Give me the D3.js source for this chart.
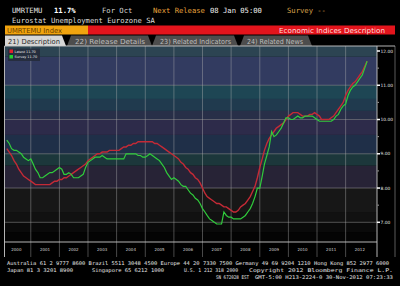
<!DOCTYPE html>
<html>
<head>
<meta charset="utf-8">
<script src="https://cdn.jsdelivr.net/npm/d3@7"></script>
<style>
  html, body { margin: 0; padding: 0; background: #000; }
  svg { display: block; }
</style>
</head>
<body>
<svg id="chart" width="400" height="286"></svg>
<script>
// monthly series, Mar 2000 .. Oct 2012
const startMonth = new Date(2000, 2, 1);
const latest = [
  9.15, 9.05, 8.95, 8.8, 8.7, 8.55, 8.45, 8.35, 8.3, 8.25,
  8.2, 8.15, 8.1, 8.1, 8.1, 8.1, 8.1, 8.1, 8.1, 8.15, 8.2, 8.2,
  8.25, 8.25, 8.3, 8.3, 8.35, 8.4, 8.45, 8.5, 8.55, 8.6, 8.65, 8.7,
  8.8, 8.85, 8.9, 8.95, 9.0, 9.0, 9.05, 9.05, 9.05, 9.1, 9.1, 9.1,
  9.1, 9.1, 9.15, 9.2, 9.2, 9.25, 9.25, 9.3, 9.3, 9.35, 9.35, 9.35,
  9.35, 9.35, 9.35, 9.35, 9.3, 9.3, 9.25, 9.2, 9.15, 9.1, 9.05, 9.0,
  8.95, 8.9, 8.85, 8.75, 8.7, 8.6, 8.55, 8.45, 8.4, 8.3, 8.25, 8.15,
  8.0, 7.85, 7.75, 7.7, 7.65, 7.6, 7.55, 7.55, 7.5, 7.45, 7.45, 7.4,
  7.35, 7.3, 7.3, 7.35, 7.45, 7.5, 7.55, 7.65, 7.75, 7.9, 8.05, 8.3,
  8.6, 8.85, 9.1, 9.3, 9.45, 9.55, 9.65, 9.75, 9.8, 9.85, 9.9, 10.0,
  10.1, 10.15, 10.2, 10.2, 10.2, 10.15, 10.1, 10.1, 10.1, 10.15, 10.15, 10.2,
  10.15, 10.1, 10.0, 10.0, 10.0, 10.0, 10.05, 10.1, 10.2, 10.3, 10.4, 10.5,
  10.7, 10.85, 10.95, 11.05, 11.1, 11.2, 11.3, 11.4, 11.55, 11.7
];
const survey = [
  9.4, 9.3, 9.15, 9.1, 9.1, 9.05, 9.0, 8.9, 8.85, 8.8,
  8.85, 8.7, 8.55, 8.45, 8.3, 8.3, 8.35, 8.4, 8.45, 8.45, 8.5, 8.55,
  8.6, 8.55, 8.4, 8.4, 8.45, 8.4, 8.3, 8.3, 8.3, 8.35, 8.4, 8.6,
  8.75, 8.8, 8.85, 8.9, 8.9, 8.9, 8.95, 8.9, 8.85, 8.85, 8.85, 8.85,
  8.85, 8.85, 8.85, 8.85, 9.0, 9.0, 9.0, 9.0, 9.0, 8.95, 8.95, 8.9,
  8.9, 8.95, 9.0, 8.95, 8.9, 8.85, 8.8, 8.7, 8.6, 8.45, 8.35, 8.25,
  8.3, 8.25, 8.2, 8.1, 8.05, 8.05, 7.95, 7.85, 7.8, 7.7, 7.65, 7.55,
  7.4, 7.3, 7.2, 7.1, 7.05, 7.0, 6.95, 6.95, 6.95, 7.3, 7.2, 7.15,
  7.15, 7.1, 7.1, 7.1, 7.1, 7.15, 7.2, 7.3, 7.4, 7.55, 7.75, 8.0,
  8.0, 8.35, 8.7, 8.95, 9.2, 9.65, 9.5, 9.55, 9.65, 9.75, 9.9, 10.05,
  10.05, 10.0, 10.0, 10.05, 10.1, 10.05, 10.05, 10.1, 10.1, 10.1, 10.1, 10.05,
  10.0, 9.95, 9.95, 9.95, 9.95, 9.95, 9.95, 10.0, 10.1, 10.15, 10.3, 10.4,
  10.45, 10.7, 10.85, 10.95, 11.0, 11.1, 11.2, 11.3, 11.5, 11.7
];
const yTicks = [7, 8, 9, 10, 11, 12];
const yMinor = [7.5, 8.5, 9.5, 10.5, 11.5];
const yearLabels = d3.range(2000, 2013);
const legendNames = ["Latest 11.70", "Survey 11.70"];

// background shading bands (value ranges)
const bands = [
  [12.3, 11.83, "#2c4452"], [11.83, 11.0, "#323b60"], [11.0, 10.6, "#1e4654"],
  [10.6, 10.25, "#203a4e"], [10.25, 10.0, "#282f48"], [10.0, 9.55, "#2d2b4a"],
  [9.55, 9.0, "#1f2f48"], [9.0, 8.65, "#1c373b"], [8.65, 8.0, "#272336"],
  [8.0, 7.3, "#171717"], [7.3, 7.0, "#111111"], [7.0, 6.7, "#0a0a0a"], [6.7, 6.2, "#040404"]
];

const svg = d3.select("#chart");
const mono = "'DejaVu Sans Mono', 'Liberation Mono', monospace";
const sans = "'DejaVu Sans', 'Liberation Sans', sans-serif";

// ---- header ----
const hdr = [
  { t: "UMRTEMU", x: 12, c: "#e2e2e2" },
  { t: "11.7%", x: 54, c: "#ffffff", b: true },
  { t: "For Oct", x: 102, c: "#d0d0d0" },
  { t: "Next Release", x: 153, c: "#e8a33c" },
  { t: "08 Jan 05:00", x: 210, c: "#f0f0f0" },
  { t: "Survey --", x: 287, c: "#d9a04a" }
];
svg.selectAll("text.hdr").data(hdr).join("text")
  .attr("class", "hdr")
  .attr("x", d => d.x).attr("y", 12.5)
  .attr("font-family", mono).attr("font-size", 7.2)
  .attr("font-weight", d => d.b ? "bold" : "normal")
  .attr("fill", d => d.c).text(d => d.t);
svg.append("text").attr("x", 12).attr("y", 22.5)
  .attr("font-family", mono).attr("font-size", 7.2).attr("fill", "#dcdcdc")
  .text("Eurostat Unemployment Eurozone SA");

// amber / red bar
svg.append("rect").attr("x", 88).attr("y", 25.5).attr("width", 307).attr("height", 9).attr("fill", "#e3141c");
svg.append("rect").attr("x", 5).attr("y", 25.5).attr("width", 83).attr("height", 9).attr("fill", "#f1a40f");
svg.append("text").attr("x", 7).attr("y", 32.7)
  .attr("font-family", sans).attr("font-size", 7).attr("fill", "#6a3c00")
  .attr("textLength", 55).attr("lengthAdjust", "spacingAndGlyphs").text("UMRTEMU Index");
svg.append("text").attr("x", 279).attr("y", 32.7)
  .attr("font-family", sans).attr("font-size", 7).attr("fill", "#ffdede")
  .attr("textLength", 106).attr("lengthAdjust", "spacingAndGlyphs").text("Economic Indices Description");

// tabs
const tabs = [
  { t: "21) Description", x0: 5, x1: 62, tx: 8, tw: 52, on: true, slant: false },
  { t: "22) Release Details", x0: 67, x1: 148, tx: 75, tw: 70 },
  { t: "23) Related Indicators", x0: 152, x1: 234, tx: 160, tw: 71 },
  { t: "24) Related News", x0: 240, x1: 308, tx: 247, tw: 56 }
];
const tabG = svg.append("g");
tabG.selectAll("path").data(tabs).join("path")
  .attr("d", d => {
    const l = d.slant === false ? d.x0 : d.x0 + 4;
    return `M${d.x0},46 L${l},35.5 L${d.x1},35.5 L${d.x1 + 4},46 Z`;
  })
  .attr("fill", d => d.on ? "#d6d6d6" : "#4d4d4d");
tabG.selectAll("text").data(tabs).join("text")
  .attr("x", d => d.tx).attr("y", 43.5)
  .attr("font-family", sans).attr("font-size", 7)
  .attr("fill", d => d.on ? "#2b2b2b" : "#bdbdbd")
  .attr("textLength", d => d.tw).attr("lengthAdjust", "spacingAndGlyphs")
  .text(d => d.t);

// ---- chart ----
const plot = { left: 4.5, right: 377, top: 46, bottom: 242 };
const x = d3.scaleTime()
  .domain([new Date(2000, 0, 1), new Date(2013, 0, 1)])
  .range([2.1, 374.3]);
const y = d3.scaleLinear().domain([7, 12]).range([222.3, 51]);

svg.append("defs").append("clipPath").attr("id", "clip")
  .append("rect").attr("x", plot.left).attr("y", plot.top)
  .attr("width", plot.right - plot.left).attr("height", plot.bottom - plot.top);

const chart = svg.append("g");
chart.append("g").attr("clip-path", "url(#clip)")
  .selectAll("rect").data(bands).join("rect")
  .attr("x", plot.left).attr("width", plot.right - plot.left)
  .attr("y", d => y(d[0])).attr("height", d => y(d[1]) - y(d[0]))
  .attr("fill", d => d[2]);

// gridlines
chart.append("g").selectAll("line").data(yTicks.filter(v => v < 12)).join("line")
  .attr("x1", plot.left).attr("x2", plot.right)
  .attr("y1", d => y(d)).attr("y2", d => y(d))
  .attr("stroke", "#b4b4b4").attr("stroke-opacity", 0.55).attr("stroke-width", 0.8);
const yearStarts = d3.range(2001, 2013).map(yr => new Date(yr, 0, 1));
chart.append("g").selectAll("line").data(yearStarts).join("line")
  .attr("x1", d => x(d)).attr("x2", d => x(d))
  .attr("y1", plot.top).attr("y2", 257)
  .attr("stroke", "#b4b4b4").attr("stroke-opacity", 0.5).attr("stroke-width", 0.8);

// frame
const frame = chart.append("g").attr("stroke", "#c8c8c8").attr("stroke-width", 0.9);
frame.append("line").attr("x1", plot.left).attr("x2", 395).attr("y1", plot.top).attr("y2", plot.top);
frame.append("line").attr("x1", plot.left).attr("x2", plot.left).attr("y1", plot.top).attr("y2", 257);
frame.append("line").attr("x1", plot.right).attr("x2", plot.right).attr("y1", plot.top).attr("y2", 257);
frame.append("line").attr("x1", plot.left).attr("x2", plot.right).attr("y1", plot.bottom).attr("y2", plot.bottom);
frame.append("line").attr("x1", 395).attr("x2", 395).attr("y1", plot.top).attr("y2", 257).attr("stroke-opacity", 0.5);

// series
const monthOf = i => d3.timeMonth.offset(startMonth, i);
const line = d3.line().x((d, i) => x(monthOf(i))).y(d => y(d));
const seriesG = chart.append("g").attr("clip-path", "url(#clip)").attr("fill", "none");
seriesG.append("path").datum(latest).attr("d", line)
  .attr("stroke", "#c42a36").attr("stroke-width", 1.4);
seriesG.append("path").datum(survey).attr("d", line)
  .attr("stroke", "#30cc3c").attr("stroke-width", 1.2);

// right axis
const ax = chart.append("g");
ax.selectAll("line.maj").data(yTicks).join("line").attr("class", "maj")
  .attr("x1", plot.right).attr("x2", plot.right + 3)
  .attr("y1", d => y(d)).attr("y2", d => y(d))
  .attr("stroke", "#ffffff").attr("stroke-width", 1.5);
ax.selectAll("line.min").data(yMinor).join("line").attr("class", "min")
  .attr("x1", plot.right + 0.5).attr("x2", plot.right + 2)
  .attr("y1", d => y(d)).attr("y2", d => y(d))
  .attr("stroke", "#a0a0a0").attr("stroke-width", 1);
ax.selectAll("text").data(yTicks).join("text")
  .attr("x", plot.right + 3.5).attr("y", d => y(d) + 1.6)
  .attr("font-family", sans).attr("font-size", 4.4).attr("fill", "#e6e6e6")
  .text(d3.format(".2f"));

// x labels
chart.append("g").selectAll("text").data(yearLabels).join("text")
  .attr("x", d => x(new Date(d, 6, 1))).attr("y", 251)
  .attr("text-anchor", "middle")
  .attr("font-family", sans).attr("font-size", 4).attr("fill", "#d2d2d2")
  .text(d => d);

// legend
const lg = chart.append("g");
lg.append("rect").attr("x", 8).attr("y", 48.5).attr("width", 32).attr("height", 12.5)
  .attr("fill", "#252c3c").attr("fill-opacity", 0.9);
lg.selectAll("rect.sw").data(["#e0222c", "#22d22e"]).join("rect").attr("class", "sw")
  .attr("x", 9.5).attr("y", (d, i) => 49.5 + i * 5.5).attr("width", 3.5).attr("height", 3.5)
  .attr("fill", d => d);
lg.selectAll("text").data(legendNames).join("text")
  .attr("x", 14.5).attr("y", (d, i) => 52.8 + i * 5.5)
  .attr("font-family", sans).attr("font-size", 3.4).attr("fill", "#e8e8e8")
  .text(d => d);

// ---- footer ----
const foot = [
  { t: "Australia 61 2 9777 8600 Brazil 5511 3048 4500 Europe 44 20 7330 7500 Germany 49 69 9204 1210 Hong Kong 852 2977 6000", x: 7, y: 265, w: 382 },
  { t: "Japan 81 3 3201 8900", x: 7, y: 271.8, w: 66 },
  { t: "Singapore 65 6212 1000", x: 92, y: 271.8, w: 72 },
  { t: "U.S. 1 212 318 2000", x: 184, y: 271.8, w: 54 },
  { t: "Copyright 2012 Bloomberg Finance L.P.", x: 249, y: 271.8, w: 144 },
  { t: "SN 672028 EST", x: 216, y: 278.6, w: 33 },
  { t: "GMT-5:00 H213-2224-0 30-Nov-2012 07:23:33", x: 255, y: 278.6, w: 138 }
];
svg.append("g").selectAll("text").data(foot).join("text")
  .attr("x", d => d.x).attr("y", d => d.y)
  .attr("font-family", mono).attr("font-size", 5.1).attr("fill", "#e8e8e8")
  .attr("textLength", d => d.w).attr("lengthAdjust", "spacingAndGlyphs")
  .text(d => d.t);
</script>
</body>
</html>
